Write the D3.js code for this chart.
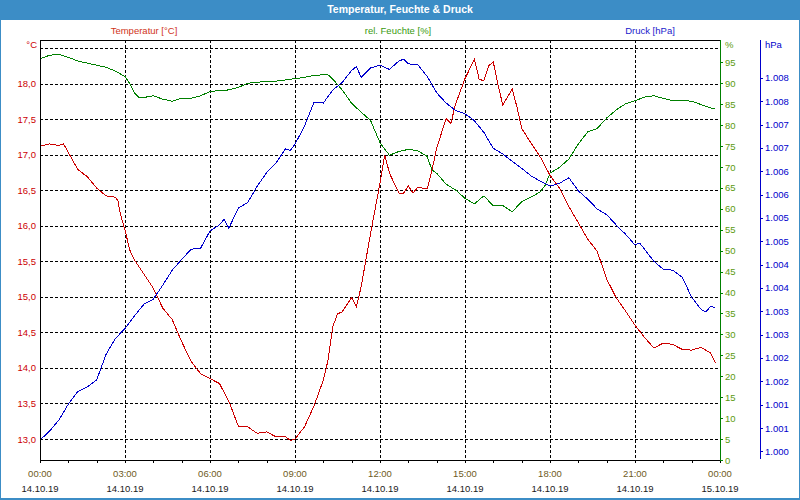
<!DOCTYPE html>
<html><head><meta charset="utf-8">
<script src="https://cdn.jsdelivr.net/npm/d3@7"></script>
<style>
body{margin:0;background:#fff;}
svg{display:block;font-family:"Liberation Sans",Arial,sans-serif;}
</style></head>
<body>
<svg id="c" width="800" height="500"></svg>
<script>
// ---------- data ----------
const chartTitle = "Temperatur, Feuchte & Druck";
const seriesNames = ["Temperatur [°C]", "rel. Feuchte [%]", "Druck [hPa]"];

const tempTimes = ["00:00","00:20","00:40","00:50","01:00","01:20","01:40","02:00","02:20","02:40","02:45","02:50","03:00","03:10","03:20","03:40","04:00","04:20","04:40","05:00","05:20","05:40","06:00","06:20","06:40","07:00","07:20","07:40","08:00","08:20","08:40","08:50","09:00","09:20","09:40","10:00","10:10","10:20","10:30","10:40","11:00","11:10","11:20","11:40","12:00","12:10","12:20","12:40","12:50","13:00","13:10","13:20","13:40","13:50","14:00","14:20","14:30","14:40","15:00","15:20","15:30","15:40","15:50","16:00","16:10","16:20","16:30","16:40","16:50","17:00","17:20","17:40","18:00","18:20","18:40","19:00","19:20","19:40","20:00","20:20","20:40","21:00","21:20","21:40","22:00","22:20","22:40","23:00","23:20","23:40","23:50"];
const tempValues = [17.12,17.15,17.13,17.15,17.03,16.79,16.69,16.53,16.42,16.40,16.35,16.17,15.94,15.66,15.52,15.32,15.12,14.84,14.68,14.37,14.09,13.92,13.85,13.78,13.53,13.18,13.17,13.08,13.10,13.03,13.03,12.98,13.00,13.17,13.46,13.83,14.11,14.58,14.76,14.79,14.99,14.86,15.14,15.89,16.60,17.00,16.74,16.46,16.46,16.56,16.46,16.54,16.52,16.78,17.09,17.51,17.44,17.71,18.07,18.34,18.06,18.04,18.25,18.30,17.98,17.70,17.81,17.92,17.67,17.37,17.16,16.96,16.71,16.53,16.27,16.04,15.81,15.64,15.25,14.99,14.80,14.60,14.43,14.28,14.35,14.33,14.26,14.25,14.29,14.21,14.07];

const humTimes = ["00:00","00:20","00:40","01:00","01:20","01:40","02:00","02:20","02:40","03:00","03:10","03:20","03:30","03:40","04:00","04:20","04:40","05:00","05:20","05:40","06:00","06:20","06:40","07:00","07:20","07:40","08:00","08:20","08:40","09:00","09:20","09:40","10:00","10:10","10:20","10:40","11:00","11:20","11:40","12:00","12:20","12:40","13:00","13:20","13:40","13:50","14:00","14:20","14:40","15:00","15:20","15:40","16:00","16:20","16:40","17:00","17:20","17:40","17:50","18:00","18:20","18:40","19:00","19:20","19:40","20:00","20:20","20:40","21:00","21:20","21:40","22:00","22:20","22:40","23:00","23:20","23:40","23:50"];
const humValues = [95.8,96.7,96.9,96.2,95.3,94.8,94.3,93.8,92.9,91.6,89.9,87.7,86.6,86.6,87.0,86.2,85.7,86.4,86.4,87.0,88.0,88.3,88.4,89.0,90.0,90.2,90.5,90.5,90.8,91.1,91.4,91.9,92.0,92.0,91.0,88.4,85.2,83.1,81.1,75.8,72.8,73.7,74.2,73.9,72.5,69.3,68.5,65.9,64.5,62.5,61.2,63.1,60.7,60.8,59.3,61.7,62.8,64.1,65.7,68.5,69.9,71.9,75.5,78.4,79.2,81.7,83.6,85.1,85.8,86.7,87.0,86.4,85.8,85.9,85.7,84.9,84.1,84.0];

const pressTimes = ["00:00","00:20","00:40","01:00","01:20","01:40","02:00","02:20","02:40","03:00","03:20","03:40","04:00","04:20","04:40","05:00","05:20","05:40","06:00","06:20","06:30","06:40","07:00","07:20","07:40","08:00","08:20","08:40","08:50","09:00","09:20","09:40","10:00","10:20","10:40","11:00","11:10","11:20","11:40","12:00","12:20","12:40","12:50","13:00","13:20","13:40","14:00","14:20","14:40","15:00","15:20","15:40","16:00","16:20","16:40","17:00","17:20","17:40","18:00","18:20","18:40","19:00","19:20","19:40","20:00","20:20","20:40","21:00","21:10","21:20","21:40","22:00","22:20","22:40","23:00","23:20","23:30","23:40","23:50"];
const pressValues = [1000.24,1000.43,1000.67,1001.01,1001.28,1001.38,1001.53,1002.08,1002.42,1002.63,1002.90,1003.15,1003.26,1003.56,1003.88,1004.11,1004.33,1004.35,1004.72,1004.85,1004.97,1004.78,1005.21,1005.33,1005.68,1005.97,1006.18,1006.48,1006.44,1006.58,1006.96,1007.47,1007.46,1007.74,1007.90,1008.16,1008.24,1008.01,1008.21,1008.27,1008.18,1008.36,1008.40,1008.30,1008.28,1008.03,1007.68,1007.46,1007.30,1007.23,1007.08,1006.83,1006.49,1006.37,1006.21,1006.06,1005.90,1005.78,1005.68,1005.74,1005.86,1005.58,1005.40,1005.19,1005.07,1004.85,1004.65,1004.42,1004.46,1004.33,1004.07,1003.90,1003.88,1003.73,1003.30,1003.04,1002.99,1003.10,1003.08];

const tempGrid = [13.0,13.5,14.0,14.5,15.0,15.5,16.0,16.5,17.0,17.5,18.0,18.5];
const tempTicks = [13.0,13.5,14.0,14.5,15.0,15.5,16.0,16.5,17.0,17.5,18.0];
const humTicks = [0,5,10,15,20,25,30,35,40,45,50,55,60,65,70,75,80,85,90,95];
const pressTicks = [1000,1000.5,1001,1001.5,1002,1002.5,1003,1003.5,1004,1004.5,1005,1005.5,1006,1006.5,1007,1007.5,1008];
const pressTickLabels = ["1.000","1.001","1.001","1.002","1.002","1.003","1.003","1.004","1.004","1.005","1.005","1.006","1.006","1.007","1.007","1.008","1.008"];
const hourTicks = [0,1,2,3,4,5,6,7,8,9,10,11,12,13,14,15,16,17,18,19,20,21,22,23,24];
const majorHours = [0,3,6,9,12,15,18,21,24];
const timeLabels = ["00:00","03:00","06:00","09:00","12:00","15:00","18:00","21:00","00:00"];
const dateLabels = ["14.10.19","14.10.19","14.10.19","14.10.19","14.10.19","14.10.19","14.10.19","14.10.19","15.10.19"];

// ---------- layout ----------
const L = 40, R = 720, T = 40, B = 460;
const cTitle = "#3c8dc6";
const cRed = "#cc0000", cGreen = "#008000", cBlue = "#0000cc";

const svg = d3.select("#c");
const toH = s => { const [h, m] = s.split(":").map(Number); return h + m / 60; };

const x = d3.scaleLinear().domain([0, 24]).range([L, R]);
const yT = d3.scaleLinear().domain([12.7046, 18.6125]).range([B, T]);
const yH = d3.scaleLinear().domain([0, 100.33]).range([B, T]);
const yP = d3.scaleLinear().domain([999.814, 1008.81]).range([B, T]);

// background & frame
svg.append("rect").attr("x",0).attr("y",0).attr("width",800).attr("height",500).attr("fill","#fff");
svg.append("rect").attr("x",0).attr("y",0).attr("width",800).attr("height",20).attr("fill",cTitle);
svg.append("rect").attr("x",0.5).attr("y",0.5).attr("width",799).attr("height",498).attr("fill","none").attr("stroke",cTitle).attr("stroke-width",1);
svg.append("line").attr("x1",0).attr("x2",800).attr("y1",499.5).attr("y2",499.5).attr("stroke",cTitle);
svg.append("text").attr("x",400).attr("y",13).attr("text-anchor","middle").attr("fill","#fff")
  .attr("font-weight","bold").attr("font-size","10.5px").text(chartTitle);

// legend labels
const legendX = [144, 398, 650];
const legendC = ["#d0341a", "#3a9a10", "#1a1acc"];
seriesNames.forEach((n, i) => {
  svg.append("text").attr("x", legendX[i]).attr("y", 34).attr("text-anchor","middle")
    .attr("font-size","9.5px").attr("fill", legendC[i]).text(n);
});

// grid
const g = svg.append("g").attr("shape-rendering","crispEdges");
g.selectAll(".hg").data(tempGrid).join("line")
  .attr("x1", L).attr("x2", R).attr("y1", d => Math.round(yT(d)) + 0.5).attr("y2", d => Math.round(yT(d)) + 0.5)
  .attr("stroke","#000").attr("stroke-dasharray","3,2");
g.selectAll(".vg").data(majorHours.filter(h => h > 0 && h < 24)).join("line")
  .attr("y1", T).attr("y2", B).attr("x1", d => Math.round(x(d)) + 0.5).attr("x2", d => Math.round(x(d)) + 0.5)
  .attr("stroke","#000").attr("stroke-dasharray","3,2");

// lines
const mk = (times, vals, ys) => times.map((t, i) => [x(toH(t)), ys(vals[i])]);
const line = d3.line();
svg.append("path").attr("d", line(mk(humTimes, humValues, yH))).attr("fill","none").attr("stroke",cGreen).attr("stroke-width",1).attr("shape-rendering","crispEdges");
svg.append("path").attr("d", line(mk(tempTimes, tempValues, yT))).attr("fill","none").attr("stroke",cRed).attr("stroke-width",1).attr("shape-rendering","crispEdges");
svg.append("path").attr("d", line(mk(pressTimes, pressValues, yP))).attr("fill","none").attr("stroke",cBlue).attr("stroke-width",1).attr("shape-rendering","crispEdges");

// frame lines
const f = svg.append("g").attr("shape-rendering","crispEdges");
f.append("line").attr("x1",L).attr("x2",R).attr("y1",T+0.5).attr("y2",T+0.5).attr("stroke","#000");
f.append("line").attr("x1",L+0.5).attr("x2",L+0.5).attr("y1",T).attr("y2",B).attr("stroke","#000");
f.append("line").attr("x1",L).attr("x2",R).attr("y1",B+0.5).attr("y2",B+0.5).attr("stroke","#000");

// x axis
const xa = svg.append("g").attr("transform",`translate(0,${B})`)
  .call(d3.axisBottom(x).tickValues(hourTicks).tickSize(3).tickFormat(""));
xa.select(".domain").remove();
xa.selectAll("line").attr("stroke","#000").attr("shape-rendering","crispEdges");
majorHours.forEach((h, i) => {
  svg.append("text").attr("x", x(h)).attr("y", 477).attr("text-anchor","middle").attr("font-size","9.5px").attr("fill","#6e5a1c").text(timeLabels[i]);
  svg.append("text").attr("x", x(h)).attr("y", 492).attr("text-anchor","middle").attr("font-size","9.5px").attr("fill","#1a1a1a").text(dateLabels[i]);
});

// left temperature axis
const la = svg.append("g").attr("transform",`translate(${L},0)`)
  .call(d3.axisLeft(yT).tickValues(tempTicks).tickSize(0).tickPadding(4).tickFormat(d => d3.format(".1f")(d).replace(".", ",")));
la.select(".domain").remove();
la.selectAll("text").attr("font-size","9.5px").attr("fill",cRed).attr("font-family","Liberation Sans, Arial, sans-serif");
svg.append("text").attr("x",37).attr("y",48).attr("text-anchor","end").attr("font-size","9.5px").attr("fill",cRed).text("°C");

// right humidity axis
const ha = svg.append("g").attr("transform",`translate(${R},0)`)
  .call(d3.axisRight(yH).tickValues(humTicks).tickSize(3).tickPadding(2));
ha.select(".domain").attr("stroke",cGreen).attr("d",`M0.5,${T}V${B}`).attr("shape-rendering","crispEdges");
ha.selectAll("line").attr("stroke",cGreen).attr("shape-rendering","crispEdges");
ha.selectAll("text").attr("font-size","9.5px").attr("fill","#5c9a0e").attr("font-family","Liberation Sans, Arial, sans-serif");
svg.append("text").attr("x",725).attr("y",48).attr("font-size","9.5px").attr("fill","#5c9a0e").text("%");

// pressure axis
const pa = svg.append("g").attr("transform",`translate(760,0)`)
  .call(d3.axisRight(yP).tickValues(pressTicks).tickSize(3).tickPadding(2).tickFormat((d, i) => pressTickLabels[i]));
pa.select(".domain").attr("stroke",cBlue).attr("d",`M0.5,${T}V${B-1}`).attr("shape-rendering","crispEdges");
pa.selectAll("line").attr("stroke",cBlue).attr("shape-rendering","crispEdges");
pa.selectAll("text").attr("font-size","9.5px").attr("fill",cBlue).attr("font-family","Liberation Sans, Arial, sans-serif");
svg.append("text").attr("x",765).attr("y",48).attr("font-size","9.5px").attr("fill",cBlue).text("hPa");
</script>
</body></html>
